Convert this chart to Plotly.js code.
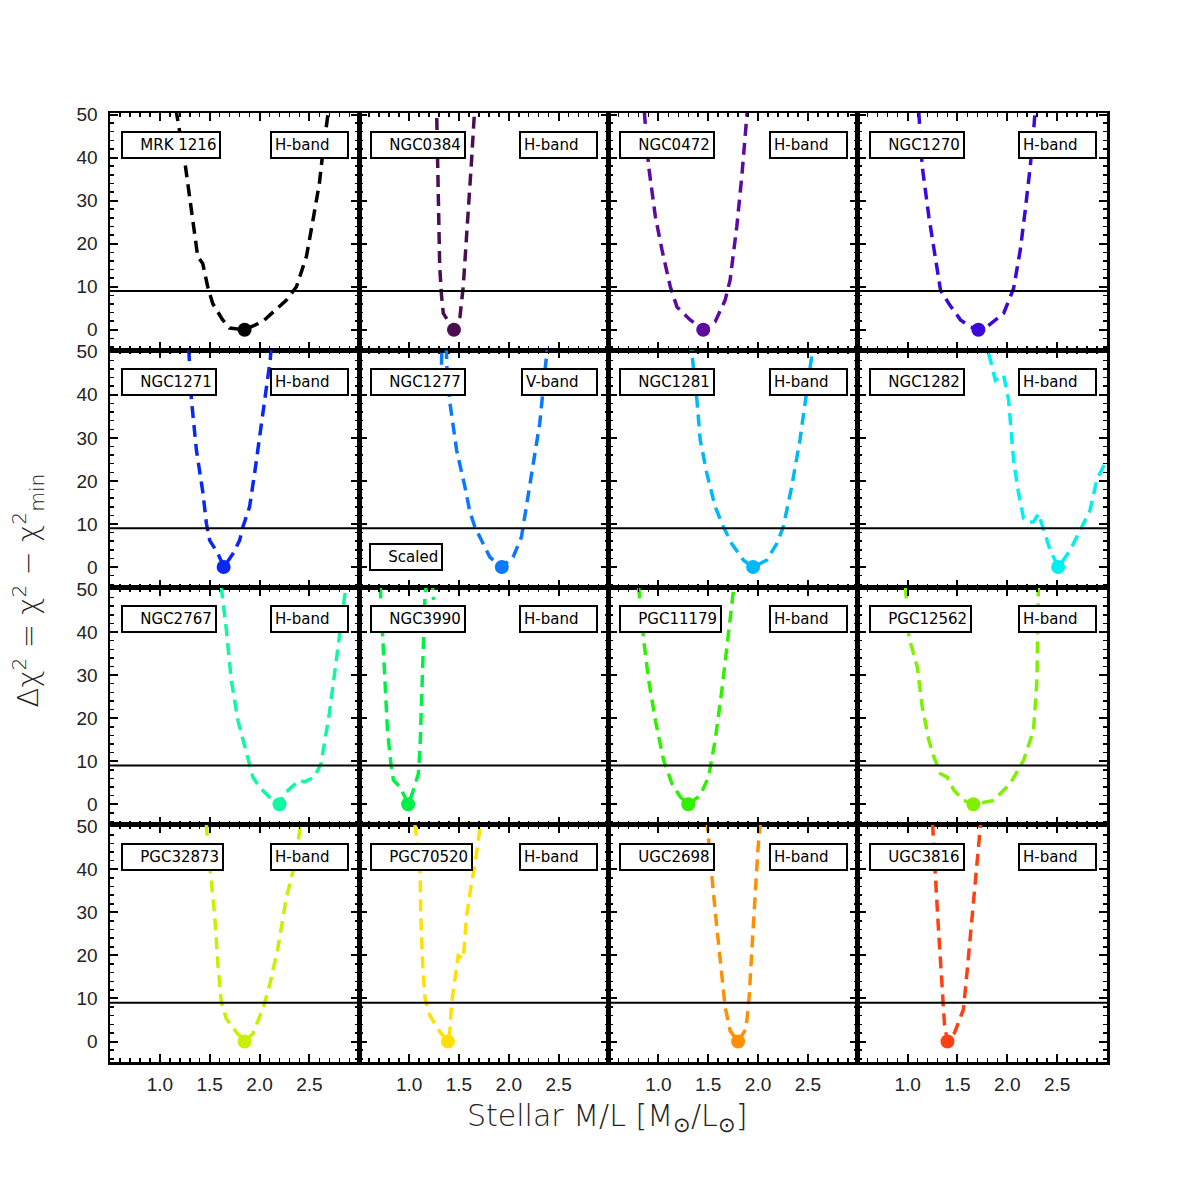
<!DOCTYPE html>
<html>
<head>
<meta charset="utf-8">
<script src="https://cdn.plot.ly/plotly-3.0.1.min.js"></script>
<style>html,body{margin:0;padding:0;background:#fff;}</style>
</head>
<body>
<div id="chart" style="width:1180px;height:1180px;"></div>
<script>
// ---------------- DATA ----------------
const galaxies = ["MRK 1216","NGC0384","NGC0472","NGC1270","NGC1271","NGC1277","NGC1281","NGC1282",
                  "NGC2767","NGC3990","PGC11179","PGC12562","PGC32873","PGC70520","UGC2698","UGC3816"];
const bands = ["H-band","H-band","H-band","H-band","H-band","V-band","H-band","H-band",
               "H-band","H-band","H-band","H-band","H-band","H-band","H-band","H-band"];
const scaledNote = ["","","","","","Scaled","","","","","","","","","",""];
const bestML = [1.85,1.45,1.45,1.71,1.64,1.93,1.95,2.51,2.20,0.99,1.30,1.66,1.85,1.39,1.80,1.40];
const bestChi2 = [0,0,0,0,0,0,0,0,0,0,0,0,0,0,0,0];
const threshold = 9;   // Delta chi^2 = 9 line

const mrk1216_ml  = [1.12,1.17,1.25,1.30,1.35,1.38,1.43,1.48,1.53,1.63,1.70,1.85,2.03,2.27,2.37,2.47,2.53,2.60,2.63,2.68,2.72];
const mrk1216_chi = [60,50,39.1,30.2,22.4,17.0,15.4,10,6.1,2.3,0.4,0,1.9,6.9,10,17,24.7,34,40.2,49.5,56];
const ngc0384_ml  = [1.27,1.277,1.283,1.293,1.307,1.325,1.343,1.45,1.51,1.543,1.577,1.603,1.627,1.653,1.665];
const ngc0384_chi = [58,49.5,37.9,26.3,14.7,8,3.8,0,3.0,10,20.9,30.2,39.5,49.5,55];
const ngc0472_ml  = [0.85,0.863,0.903,0.97,1.037,1.12,1.187,1.32,1.453,1.57,1.67,1.72,1.787,1.837,1.887,1.90];
const ngc0472_chi = [55,49.5,37.9,26.3,18.5,10,5.3,2.3,0,1.9,6.9,11.6,24,35.6,49.5,55];
const ngc1270_ml  = [1.10,1.113,1.147,1.213,1.28,1.33,1.413,1.53,1.63,1.707,1.797,1.963,2.063,2.13,2.18,2.23,2.27,2.285];
const ngc1270_chi = [55,49.5,37.9,26.3,16.2,9.2,6.1,2.3,0.7,0,0.7,3.8,9.6,18.5,27.8,37.9,48,53];
const ngc1271_ml  = [1.28,1.293,1.317,1.367,1.433,1.467,1.50,1.583,1.643,1.733,1.80,1.833,1.90,1.95,2.017,2.067,2.107,2.12];
const ngc1271_chi = [55,49.6,38.8,27.1,17.1,10.1,6.2,3.1,0,3.1,6.2,9.3,14,21.7,33.3,41.1,48.1,52];
const ngc1277_ml  = [1.325,1.33,1.37,1.38,1.41,1.477,1.56,1.61,1.66,1.727,1.81,1.927,2.043,2.127,2.177,2.243,2.31,2.377,2.39];
const ngc1277_chi = [47,53,53,46,38,27.1,18.6,12.8,9.3,6.2,2.3,0,2.3,7,14,23.3,33.3,48.8,53];
const ngc1281_ml  = [1.33,1.337,1.387,1.42,1.487,1.57,1.653,1.737,1.853,1.953,2.087,2.187,2.253,2.337,2.42,2.487,2.537,2.55];
const ngc1281_chi = [53,49.6,38.8,29.5,21.7,14,9.3,5.4,1.6,0,1.6,5.4,9.3,18.6,29.5,40.3,48.8,53];
const ngc1282_ml  = [1.79,1.813,1.88,1.93,1.963,2.013,2.063,2.113,2.163,2.22,2.263,2.313,2.363,2.43,2.513,2.63,2.73,2.83,2.897,2.98,3.0];
const ngc1282_chi = [54,49.6,43.4,44.0,44.6,38.8,24.8,17.1,11.3,10.4,10.5,12.4,8.5,3.9,0,3.9,8.5,13.2,20.2,24,25];
const ngc2767_ml  = [1.60,1.617,1.667,1.717,1.783,1.867,1.933,2.0,2.133,2.20,2.25,2.40,2.45,2.55,2.617,2.70,2.767,2.833,2.867,2.88];
const ngc2767_chi = [55,50.2,40.5,28.8,19.5,11.8,6.3,4.0,0.9,0,2.5,5.6,5.2,6.3,9.5,21.1,32.7,44.3,49.8,53];
const ngc3990_ml  = [0.70,0.71,0.737,0.76,0.783,0.817,0.843,0.91,0.993,1.043,1.093,1.11,1.127,1.143,1.16,1.19,1.235,1.245];
const ngc3990_chi = [55,50.2,38.1,27.3,17.2,9.5,5.6,4.0,0,3.3,7.1,13.3,25,38.1,49,53,51,47.5];
const pgc11179_ml  = [0.79,0.803,0.853,0.903,0.97,1.053,1.137,1.22,1.303,1.42,1.503,1.57,1.637,1.687,1.753,1.77];
const pgc11179_chi = [55,50.2,38.1,28.8,19.5,10.2,4.8,1.7,0,2.1,6.3,14.9,26.5,36.6,49.8,53];
const pgc12562_ml  = [0.97,0.98,1.013,1.097,1.147,1.213,1.263,1.33,1.397,1.463,1.563,1.663,1.863,2.03,2.163,2.263,2.297,2.31,2.313,2.315];
const pgc12562_chi = [55,50.2,38.9,31.9,22.6,14.9,11,7.1,6.3,3.3,0.9,0,0.9,4.8,10.2,17.2,28.8,40.5,49.8,55];
const pgc32873_ml  = [1.46,1.467,1.50,1.55,1.583,1.617,1.667,1.767,1.85,1.933,2.033,2.10,2.183,2.267,2.35,2.417,2.43];
const pgc32873_chi = [55,50.2,40.9,29.3,17.7,9.1,5.3,2.2,0,1.8,7.6,13,21.6,33.2,40.9,49.8,53];
const pgc70520_ml  = [1.05,1.06,1.11,1.117,1.137,1.16,1.21,1.31,1.393,1.41,1.427,1.46,1.493,1.543,1.577,1.627,1.66,1.71,1.72];
const pgc70520_chi = [55,50.2,40.9,29.3,17.7,9.9,6,2.2,0,3.0,9.1,15.3,20,19.2,29.3,37,40.9,49.5,53];
const ugc2698_ml  = [1.47,1.49,1.53,1.58,1.63,1.67,1.72,1.80,1.88,1.91,1.94,1.97,2.0,2.02,2.03];
const ugc2698_chi = [56,50,40,28,16,8,2.5,0,3,10,22,34,45,50,55];
const ugc3816_ml  = [1.24,1.25,1.28,1.31,1.34,1.37,1.40,1.47,1.52,1.56,1.60,1.645,1.69,1.73,1.74];
const ugc3816_chi = [55,50,38,26,14,4,0,2,5,7.5,17,28,39,50,54];

const curvesML  = [mrk1216_ml,ngc0384_ml,ngc0472_ml,ngc1270_ml,ngc1271_ml,ngc1277_ml,ngc1281_ml,ngc1282_ml,
                   ngc2767_ml,ngc3990_ml,pgc11179_ml,pgc12562_ml,pgc32873_ml,pgc70520_ml,ugc2698_ml,ugc3816_ml];
const curvesChi = [mrk1216_chi,ngc0384_chi,ngc0472_chi,ngc1270_chi,ngc1271_chi,ngc1277_chi,ngc1281_chi,ngc1282_chi,
                   ngc2767_chi,ngc3990_chi,pgc11179_chi,pgc12562_chi,pgc32873_chi,pgc70520_chi,ugc2698_chi,ugc3816_chi];

const xTicks = [1.0,1.5,2.0,2.5];
const yTicks = [0,10,20,30,40,50];

// ---------------- STYLE ----------------
const colors = ["#000000","#4a0f50","#5c0aa0","#3c08dc","#0a28f5","#0a78ff","#00b8f5","#00f0f0",
                "#10f8a0","#00f048","#30f000","#80f000","#c8f000","#ffe000","#ff9000","#ff4010"];

const NB = "\u00a0";
const traces = [];
const layout = {
  width:1180, height:1180,
  margin:{l:110, r:73, t:113, b:118},
  paper_bgcolor:"#ffffff", plot_bgcolor:"#ffffff",
  showlegend:false,
  font:{family:"Liberation Sans", color:"#111"},
  shapes:[], annotations:[]
};

for (let i=0;i<16;i++){
  const r = Math.floor(i/4), c = i%4, n = i+1;
  const xa = n===1 ? "x" : "x"+n, ya = n===1 ? "y" : "y"+n;
  const xk = n===1 ? "xaxis" : "xaxis"+n, yk = n===1 ? "yaxis" : "yaxis"+n;
  layout[xk] = {
    domain:[c/4,(c+1)/4], range:[0.5,3.0], anchor:ya,
    tickmode:"array", tickvals:xTicks, ticktext:xTicks.map(v=>v.toFixed(1)),
    showticklabels: r===3, ticks:"inside", ticklen:8, tickwidth:2, tickcolor:"#000",
    showline:true, linewidth:2.5, linecolor:"#000", mirror:"ticks",
    showgrid:false, zeroline:false, ticklabelstandoff:4,
    tickfont:{family:"Liberation Sans", size:19, color:"#222"},
    minor:{tickmode:"linear", tick0:0, dtick:0.1, ticks:"inside", ticklen:4, tickwidth:1.5, tickcolor:"#000", showgrid:false}
  };
  layout[yk] = {
    domain:[1-(r+1)/4, 1-r/4], range:[-4.75,50.35], anchor:xa,
    tickmode:"array", tickvals:yTicks,
    showticklabels: c===0, ticks:"inside", ticklen:8, tickwidth:2, tickcolor:"#000",
    showline:true, linewidth:2.5, linecolor:"#000", mirror:"ticks",
    showgrid:false, zeroline:false, ticklabelstandoff:6,
    tickfont:{family:"Liberation Sans", size:19, color:"#222"},
    minor:{tickmode:"linear", tick0:0, dtick:2, ticks:"inside", ticklen:4, tickwidth:1.5, tickcolor:"#000", showgrid:false}
  };
  traces.push({
    x:curvesML[i], y:curvesChi[i], xaxis:xa, yaxis:ya, type:"scatter", mode:"lines",
    line:{color:colors[i], width:3.5, dash:"12px,7px"}, hoverinfo:"skip"
  });
  traces.push({
    x:[bestML[i]], y:[bestChi2[i]], xaxis:xa, yaxis:ya, type:"scatter", mode:"markers",
    marker:{color:colors[i], size:14}, hoverinfo:"skip"
  });
  layout.shapes.push({
    type:"line", xref:xa+" domain", yref:ya, x0:0, x1:1, y0:threshold, y1:threshold,
    line:{color:"#000", width:2}, layer:"above"
  });
  const boxFont = {family:"DejaVu Sans", size:15, color:"#000"};
  layout.annotations.push({
    xref:xa+" domain", yref:ya+" domain", x:0.044, y:0.866, xanchor:"left", yanchor:"middle",
    text:NB+NB+NB+galaxies[i], showarrow:false, bgcolor:"#fff", bordercolor:"#000",
    borderwidth:2, borderpad:3, font:boxFont
  });
  layout.annotations.push({
    xref:xa+" domain", yref:ya+" domain", x:0.959, y:0.866, xanchor:"right", yanchor:"middle",
    text:bands[i]+NB+NB+NB, showarrow:false, bgcolor:"#fff", bordercolor:"#000",
    borderwidth:2, borderpad:3, font:boxFont
  });
  if (scaledNote[i]) {
    layout.annotations.push({
      xref:xa+" domain", yref:ya+" domain", x:0.041, y:0.129, xanchor:"left", yanchor:"middle",
      text:NB+NB+NB+scaledNote[i], showarrow:false, bgcolor:"#fff", bordercolor:"#000",
      borderwidth:2, borderpad:3, font:boxFont
    });
  }
}

layout.annotations.push({
  xref:"paper", yref:"paper", x:0.4985, y:-0.0585, xanchor:"center", yanchor:"middle",
  text:"Stellar M/L [M<sub>\u2299</sub>/L<sub>\u2299</sub>]", showarrow:false,
  font:{family:"DejaVu Sans", size:30, color:"#222", weight:200}
});
layout.annotations.push({
  xref:"paper", yref:"paper", x:-0.0822, y:0.497, xanchor:"center", yanchor:"middle", textangle:-90,
  text:"\u0394\u03c7<sup>2</sup> = \u03c7<sup>2</sup> \u2212 \u03c7<sup>2</sup><sub>min</sub>", showarrow:false,
  font:{family:"DejaVu Sans", size:29, color:"#222", weight:200}
});

Plotly.newPlot("chart", traces, layout, {staticPlot:true, displayModeBar:false});
</script>
</body>
</html>
